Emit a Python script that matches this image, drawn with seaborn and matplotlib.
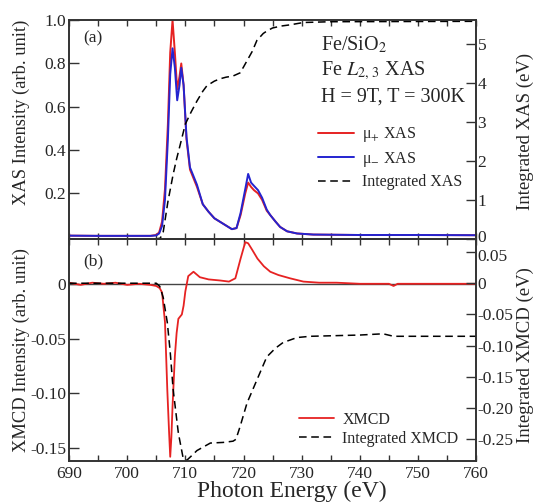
import numpy as np
import pandas as pd
import matplotlib
matplotlib.use("Agg")
import matplotlib.pyplot as plt
import matplotlib.transforms as mtransforms
import seaborn as sns
from matplotlib.ticker import MultipleLocator, FixedLocator

# =========================
# DATA
# =========================

energy_xas = [690, 695, 700, 704, 705, 705.5, 706, 706.5, 707, 707.4, 707.8, 708.2,
              708.6, 709.0, 709.3, 709.7, 710.2, 710.8, 711.4, 712, 713, 714, 715,
              716.5, 718, 718.8, 719.5, 720.3, 720.8, 721.3, 721.8, 722.5, 723.2,
              724, 724.6, 725.5, 726.3, 727.5, 729.2, 732, 740, 750, 760]
mu_plus = [0.005, 0.004, 0.004, 0.004, 0.008, 0.02, 0.07, 0.22, 0.52, 0.85, 1.0, 0.85,
           0.68, 0.74, 0.80, 0.70, 0.45, 0.31, 0.27, 0.23, 0.15, 0.115, 0.085,
           0.06, 0.035, 0.04, 0.10, 0.20, 0.25, 0.23, 0.215, 0.20, 0.17,
           0.12, 0.10, 0.07, 0.045, 0.025, 0.015, 0.01, 0.008, 0.008, 0.007]
mu_minus = [0.005, 0.004, 0.004, 0.004, 0.006, 0.015, 0.05, 0.17, 0.45, 0.75, 0.87, 0.78,
            0.63, 0.70, 0.78, 0.70, 0.46, 0.32, 0.28, 0.24, 0.15, 0.115, 0.085,
            0.06, 0.035, 0.04, 0.11, 0.22, 0.29, 0.25, 0.235, 0.215, 0.18,
            0.125, 0.10, 0.07, 0.045, 0.025, 0.015, 0.01, 0.008, 0.008, 0.007]

energy_ixas = [690, 705, 705.7, 706.2, 707, 707.9, 708.5, 709.1, 710.0, 711, 712, 713,
               713.7, 715, 716, 717, 718.2, 719.4, 720, 720.6, 721.5, 722.3, 723.4,
               724.1, 725, 726.5, 728, 730.3, 735, 760]
int_xas = [0, 0, 0.02, 0.18, 0.95, 1.65, 2.05, 2.4, 2.94, 3.25, 3.53, 3.78,
           3.92, 4.04, 4.1, 4.14, 4.17, 4.25, 4.4, 4.56, 4.8, 5.08, 5.26,
           5.33, 5.4, 5.45, 5.48, 5.54, 5.56, 5.57]

energy_xmcd = [690, 692, 694, 696, 698, 700, 702, 704, 705, 705.6, 706, 706.5, 706.9,
               707.2, 707.4, 707.6, 707.8, 708.2, 708.5, 708.8, 709.4, 709.7, 710,
               710.5, 711.4, 712.5, 714, 716, 717.5, 718.6, 719.5, 720.3, 720.8,
               721.5, 722.4, 723.5, 724.6, 726, 728, 730.3, 733, 736, 740, 745,
               745.8, 746.5, 750, 755, 760]
xmcd = [0.001, -0.001, 0.001, 0.0, 0.001, -0.001, 0.0, -0.001, -0.002, -0.004, -0.008,
        -0.035, -0.097, -0.135, -0.158, -0.14, -0.112, -0.066, -0.045, -0.032, -0.028,
        -0.02, -0.007, 0.007, 0.011, 0.006, 0.004, 0.003, 0.002, 0.005, 0.023, 0.038,
        0.037, 0.031, 0.023, 0.016, 0.011, 0.008, 0.005, 0.002, 0.001, 0.001, 0.0,
        0.0, -0.002, 0.0, 0.0, 0.0, 0.0]

energy_ixmcd = [690, 705, 705.6, 706.2, 706.9, 707.4, 707.9, 708.8, 709.6, 710.2, 711,
                712, 714.3, 716.5, 718.2, 718.7, 719.4, 720.6, 722.3, 724, 725.5,
                726.8, 729.2, 731.5, 740, 744, 745.8, 760]
int_xmcd = [0, 0, -0.005, -0.023, -0.063, -0.11, -0.17, -0.24, -0.279, -0.284, -0.277,
            -0.268, -0.256, -0.255, -0.253, -0.25, -0.23, -0.192, -0.155, -0.118,
            -0.104, -0.095, -0.087, -0.085, -0.083, -0.081, -0.085, -0.085]

# =========================
# STYLE
# =========================

sns.set_style("ticks")
plt.rcParams["font.family"] = ["Liberation Serif", "DejaVu Serif"]
plt.rcParams["mathtext.fontset"] = "stix"
plt.rcParams["axes.unicode_minus"] = False
plt.rcParams["axes.edgecolor"] = "#333333"
plt.rcParams["axes.linewidth"] = 1.2

RED = "#e62222"
BLUE = "#2424d0"

fig = plt.figure(figsize=(5.35, 5.04), dpi=100)
ax1 = fig.add_axes([0.129, 0.526, 0.761, 0.434])
ax2 = fig.add_axes([0.129, 0.085, 0.761, 0.441], sharex=ax1)
ax1r = ax1.twinx()
ax2r = ax2.twinx()

# =========================
# PANEL (a): XAS
# =========================

sns.lineplot(x=energy_xas, y=mu_plus, ax=ax1, color=RED, lw=1.4, label="μ$_{+}$ XAS", legend=False)
sns.lineplot(x=energy_xas, y=mu_minus, ax=ax1, color=BLUE, lw=1.4, label="μ$_{-}$ XAS", legend=False)
sns.lineplot(x=energy_ixas, y=int_xas, ax=ax1r, color="black", lw=1.1, ls=(0, (5, 3)),
             label="Integrated XAS", legend=False)

ax1.set_xlim(690, 760)
ax1.set_ylim(-0.01, 1.0)
ax1r.set_ylim(0, 5.6)
ax1.yaxis.set_major_locator(FixedLocator([0.2, 0.4, 0.6, 0.8, 1.0]))
ax1r.yaxis.set_major_locator(FixedLocator([0, 1, 2, 3, 4, 5]))
ax1.set_ylabel("XAS Intensity (arb. unit)", fontsize=13.3)
ax1r.set_ylabel("Integrated XAS (eV)", fontsize=13.5)
ax1.yaxis.set_label_coords(-0.097, 0.58)
ax1r.yaxis.set_label_coords(1.1, 0.49)
ax1.tick_params(axis="x", labelbottom=False)

ax1.text(0.62, 0.886, "Fe/SiO$_2$", transform=ax1.transAxes, fontsize=14.5, va="center")
ax1.text(0.62, 0.77, "Fe $\\mathit{L}_{2,\\,3}$ XAS", transform=ax1.transAxes, fontsize=14.5, va="center")
ax1.text(0.62, 0.648, "H = 9T, T = 300K", transform=ax1.transAxes, fontsize=14.5, va="center")
ax1.text(0.035, 0.9, "(a)", transform=ax1.transAxes, fontsize=12.5)

h1, l1 = ax1.get_legend_handles_labels()
h2, l2 = ax1r.get_legend_handles_labels()
ax1r.legend(h1 + h2, l1 + l2, loc="upper right", bbox_to_anchor=(1.0, 0.585),
            frameon=False, fontsize=11.5, handlelength=2.2, labelspacing=0.35,
            handletextpad=0.5)

# =========================
# PANEL (b): XMCD
# =========================

ax2.axhline(0, color="#444444", lw=1.0)
sns.lineplot(x=energy_xmcd, y=xmcd, ax=ax2, color=RED, lw=1.3, label="XMCD", legend=False)
sns.lineplot(x=energy_ixmcd, y=int_xmcd, ax=ax2r, color="black", lw=1.1, ls=(0, (5, 3)),
             label="Integrated XMCD", legend=False)

ax2.set_ylim(-0.162, 0.041)
ax2r.set_ylim(-0.285, 0.071)
ax2.yaxis.set_major_locator(FixedLocator([-0.15, -0.10, -0.05, 0]))
ax2r.yaxis.set_major_locator(FixedLocator([-0.25, -0.2, -0.15, -0.1, -0.05, 0, 0.05]))
ax2.set_yticklabels(["-0.15", "-0.10", "-0.05", "0"])
ax2r.set_yticklabels(["-0.25", "-0.20", "-0.15", "-0.10", "-0.05", "0", "0.05"])
ax2.set_ylabel("XMCD Intensity (arb. unit)", fontsize=13.3)
ax2r.set_ylabel("Integrated XMCD (eV)", fontsize=13.5)
ax2.yaxis.set_label_coords(-0.097, 0.5)
ax2r.yaxis.set_label_coords(1.1, 0.477)
ax2.set_xlabel("Photon Energy (eV)", fontsize=17)
ax2.xaxis.set_label_coords(0.548, -0.088)
ax2.text(0.035, 0.88, "(b)", transform=ax2.transAxes, fontsize=12.5)

h1, l1 = ax2.get_legend_handles_labels()
h2, l2 = ax2r.get_legend_handles_labels()
ax2r.legend(h1 + h2, l1 + l2, loc="lower right", bbox_to_anchor=(0.992, 0.0),
            frameon=False, fontsize=11.5, handlelength=2.2, labelspacing=0.2,
            handletextpad=0.5)

# =========================
# TICKS
# =========================

for ax in (ax1, ax2):
    ax.xaxis.set_major_locator(MultipleLocator(10))
    ax.xaxis.set_minor_locator(MultipleLocator(5))
    ax.tick_params(axis="x", which="both", direction="in", top=True, length=4,
                   width=1.0, labelsize=12.5, color="#333333")
    ax.tick_params(axis="y", direction="in", length=7, width=1.0, labelsize=12.5,
                   pad=2, color="#333333")
for ax in (ax1r, ax2r):
    ax.tick_params(axis="y", direction="in", length=7, width=1.0, labelsize=12.5,
                   pad=1, color="#333333")

# nudge the two labels that meet at the panel boundary apart
up = mtransforms.ScaledTranslation(0, 2 / 72, fig.dpi_scale_trans)
down = mtransforms.ScaledTranslation(0, -2 / 72, fig.dpi_scale_trans)
lab0 = ax1r.get_yticklabels()[0]
lab0.set_transform(lab0.get_transform() + up)
lab5 = ax2r.get_yticklabels()[-1]
lab5.set_transform(lab5.get_transform() + down)

fig.savefig("out.png", dpi=100)
